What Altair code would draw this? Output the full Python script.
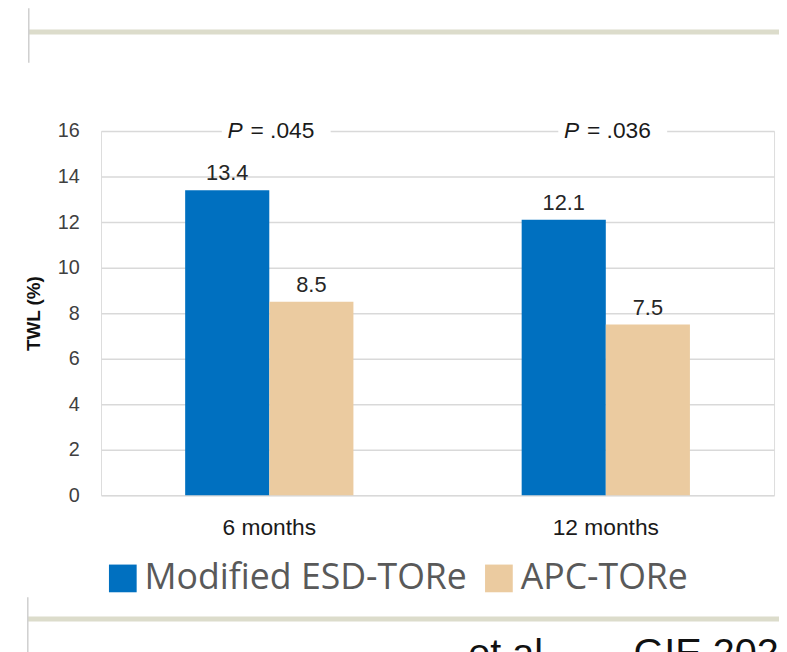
import altair as alt
import pandas as pd

categories = ["6 months", "12 months"]
groups = ["Modified ESD-TORe", "APC-TORe"]
esd_values = [13.4, 12.1]
apc_values = [8.5, 7.5]
p_values = [".045", ".036"]
colors = ["#0070C0", "#EBCBA0"]
y_ticks = [0, 2, 4, 6, 8, 10, 12, 14, 16]
p_level = 16

rows = []
for i, c in enumerate(categories):
    rows.append({"cat": c, "group": groups[0], "val": esd_values[i]})
    rows.append({"cat": c, "group": groups[1], "val": apc_values[i]})
df = pd.DataFrame(rows)
pdf = pd.DataFrame({"cat": categories, "p": ["= " + p for p in p_values], "lvl": [p_level] * 2,
                    "lo": [p_level - 0.45] * 2, "hi": [p_level + 0.45] * 2})

xscale = alt.Scale(domain=categories, paddingInner=0, paddingOuter=0)
yscale = alt.Scale(domain=[0, 16], nice=False)
offscale = alt.Scale(domain=groups, paddingInner=0, paddingOuter=1)

x_enc = alt.X("cat:N", scale=xscale, sort=categories,
              axis=alt.Axis(title=None, labelAngle=0, labelFontSize=23, labelFont="Liberation Sans",
                            labelColor="#1a1a1a", labelPadding=22, ticks=False, domain=False))
y_enc = alt.Y("val:Q", scale=yscale,
              axis=alt.Axis(values=y_ticks, title="TWL (%)", titleFontSize=19, titleFontWeight="bold",
                            titleFont="Liberation Sans", titleColor="#111", titlePadding=14,
                            labelFontSize=20, labelFont="Liberation Sans", labelColor="#404040",
                            labelPadding=22, ticks=False, domain=False,
                            gridColor="#d9d9d9", gridWidth=1.5))

bars = alt.Chart(df).mark_bar().encode(
    x=x_enc, y=y_enc,
    xOffset=alt.XOffset("group:N", scale=offscale, sort=groups),
    color=alt.Color("group:N", sort=groups, scale=alt.Scale(domain=groups, range=colors),
                    legend=alt.Legend(orient="none", legendX=4, legendY=434, direction="horizontal",
                                      title=None, symbolType="square", symbolSize=784,
                                      symbolStrokeWidth=0, symbolOpacity=1,
                                      labelFontSize=36, labelFont="Open Sans", labelColor="#595959",
                                      labelLimit=1000, columnPadding=14, labelOffset=4)),
)

labels = alt.Chart(df).mark_text(dy=-17, fontSize=22, font="Liberation Sans", color="#262626").encode(
    x=alt.X("cat:N", scale=xscale, sort=categories),
    xOffset=alt.XOffset("group:N", scale=offscale, sort=groups),
    y=alt.Y("val:Q", scale=yscale),
    text=alt.Text("val:Q", format=".1f"),
)

pbg = alt.Chart(pdf).mark_bar(color="white", width=110, xOffset=7).encode(
    x=alt.X("cat:N", scale=xscale, sort=categories),
    y=alt.Y("lo:Q", scale=yscale),
    y2="hi:Q",
)
p_it = alt.Chart(pdf).mark_text(align="right", dx=-27, fontSize=23, fontStyle="italic",
                                font="Liberation Sans", color="#1a1a1a").encode(
    x=alt.X("cat:N", scale=xscale, sort=categories),
    y=alt.Y("lvl:Q", scale=yscale),
    text=alt.value("P"),
)
p_txt = alt.Chart(pdf).mark_text(align="left", dx=-19, fontSize=23,
                                 font="Liberation Sans", color="#1a1a1a").encode(
    x=alt.X("cat:N", scale=xscale, sort=categories),
    y=alt.Y("lvl:Q", scale=yscale),
    text="p:N",
)

one = alt.Data(values=[{}])
deco_color = "#DCDCCB"
top_h = alt.Chart(one).mark_rule(color=deco_color, strokeWidth=5).encode(
    x=alt.value(-73), x2=alt.value(690), y=alt.value(-100))
top_v = alt.Chart(one).mark_rule(color="#cfcfcf", strokeWidth=1.5).encode(
    x=alt.value(-73), y=alt.value(-124), y2=alt.value(-69))
bot_h = alt.Chart(one).mark_rule(color=deco_color, strokeWidth=5).encode(
    x=alt.value(-74), x2=alt.value(690), y=alt.value(493))
bot_v = alt.Chart(one).mark_rule(color="#cfcfcf", strokeWidth=1.5).encode(
    x=alt.value(-74), y=alt.value(471), y2=alt.value(530))
cite1 = alt.Chart(one).mark_text(align="left", baseline="alphabetic", fontSize=40,
                                 font="Liberation Sans", color="#111").encode(
    x=alt.value(371), y=alt.value(540), text=alt.value("et al."))
cite2 = alt.Chart(one).mark_text(align="left", baseline="alphabetic", fontSize=40,
                                 font="Liberation Sans", color="#111").encode(
    x=alt.value(538), y=alt.value(540), text=alt.value("GIE 2020"))

chart = alt.layer(bars, labels, pbg, p_it, p_txt, top_h, top_v, bot_h, bot_v, cite1, cite2).properties(
    width=680, height=368,
    autosize=alt.AutoSizeParams(type="none"),
    padding={"left": 94, "top": 121, "right": 5, "bottom": 155},
).configure_view(stroke=None).configure(background="white")

chart.save("out.html", embed_options={"renderer": "svg", "actions": False})
